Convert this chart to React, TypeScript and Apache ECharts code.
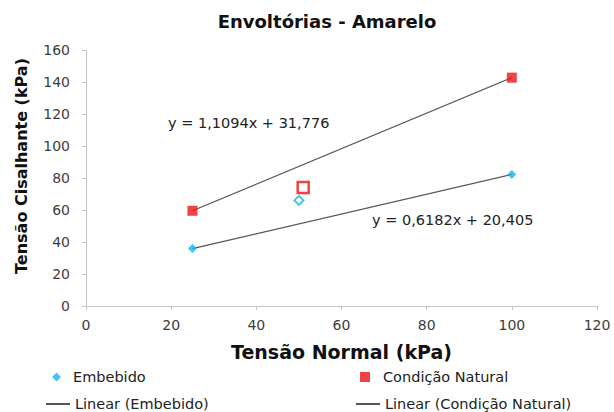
import React, { useEffect, useRef } from "react";
import * as echarts from "echarts";

const title = "Envoltórias - Amarelo";
const xName = "Tensão Normal (kPa)";
const yName = "Tensão Cisalhante (kPa)";

const embebidoPoints: [number, number][] = [[25, 35.86], [100, 82.23]];
const embebidoExcluded: [number, number][] = [[50, 66]];
const naturalPoints: [number, number][] = [[25, 59.51], [100, 142.72]];
const naturalExcluded: [number, number][] = [[51, 74]];

const embebidoFit = { slope: 0.6182, intercept: 20.405, label: "y = 0,6182x + 20,405" };
const naturalFit = { slope: 1.1094, intercept: 31.776, label: "y = 1,1094x + 31,776" };
const fitRange: [number, number] = [25, 100];

const CYAN = "#17b4ef";
const RED = "#ec1515";
const FONT = "DejaVu Sans, Verdana, sans-serif";

function line(fit: { slope: number; intercept: number }) {
  return fitRange.map((x) => [x, fit.slope * x + fit.intercept]);
}

export default function App() {
  const ref = useRef<HTMLDivElement>(null);
  useEffect(() => {
    const chart = echarts.init(ref.current!, null, { renderer: "svg" });
    const legendText = { color: "#222", fontSize: 14.5, fontFamily: FONT, lineHeight: 16 };
    chart.setOption({
      animation: false,
      backgroundColor: "#fff",
      textStyle: { fontFamily: FONT },
      title: {
        text: title,
        left: 322,
        textAlign: "center",
        top: 7,
        textStyle: { fontSize: 18, fontWeight: "bold", color: "#111", fontFamily: FONT },
      },
      grid: { left: 86, top: 50, width: 511, height: 256, containLabel: false },
      xAxis: {
        type: "value",
        min: 0,
        max: 120,
        interval: 20,
        name: xName,
        nameLocation: "middle",
        nameGap: 36,
        nameTextStyle: { fontSize: 19, fontWeight: "bold", color: "#111", fontFamily: FONT },
        axisLine: { lineStyle: { color: "#c4c4c4" } },
        axisTick: { show: true, length: 4, lineStyle: { color: "#c4c4c4" } },
        axisLabel: { fontSize: 14, color: "#3c3c3c", margin: 12, fontFamily: FONT },
        splitLine: { show: false },
      },
      yAxis: {
        type: "value",
        min: 0,
        max: 160,
        interval: 20,
        name: yName,
        nameLocation: "middle",
        nameGap: 57,
        nameTextStyle: {
          fontSize: 16,
          fontWeight: "bold",
          color: "#111",
          fontFamily: FONT,
          padding: [0, 0, 0, 24],
        },
        axisLine: { show: true, lineStyle: { color: "#c4c4c4" } },
        axisTick: { show: true, length: 4, lineStyle: { color: "#c4c4c4" } },
        axisLabel: { fontSize: 14, color: "#3c3c3c", margin: 16, fontFamily: FONT },
        splitLine: { show: false },
      },
      legend: [
        {
          data: [{ name: "Embebido", icon: "diamond" }],
          left: 52,
          top: 369,
          padding: 0,
          itemWidth: 9,
          itemHeight: 9,
          textStyle: { ...legendText, padding: [0, 0, 0, 7] },
        },
        {
          data: [{ name: "Condição Natural", icon: "rect" }],
          left: 360,
          top: 369,
          padding: 0,
          itemWidth: 10,
          itemHeight: 10,
          textStyle: { ...legendText, padding: [0, 0, 0, 8] },
        },
        {
          data: ["Linear (Embebido)"],
          left: 45,
          top: 396,
          padding: 0,
          itemWidth: 24,
          itemHeight: 2,
          textStyle: legendText,
        },
        {
          data: ["Linear (Condição Natural)"],
          left: 355,
          top: 396,
          padding: 0,
          itemWidth: 24,
          itemHeight: 2,
          textStyle: legendText,
        },
      ],
      series: [
        {
          name: "Linear (Embebido)",
          type: "line",
          data: line(embebidoFit),
          symbol: "none",
          lineStyle: { color: "#555", width: 1.2 },
          itemStyle: { color: "#555" },
          z: 1,
        },
        {
          name: "Linear (Condição Natural)",
          type: "line",
          data: line(naturalFit),
          symbol: "none",
          lineStyle: { color: "#555", width: 1.2 },
          itemStyle: { color: "#555" },
          z: 1,
        },
        {
          name: "Embebido",
          type: "scatter",
          symbol: "diamond",
          symbolSize: 9,
          itemStyle: { color: CYAN },
          data: [
            ...embebidoPoints,
            ...embebidoExcluded.map((p) => ({
              value: p,
              itemStyle: { color: "#fff", borderColor: CYAN, borderWidth: 2 },
            })),
          ],
          z: 3,
        },
        {
          name: "Condição Natural",
          type: "scatter",
          symbol: "rect",
          symbolSize: 10,
          itemStyle: { color: RED },
          data: [
            ...naturalPoints,
            ...naturalExcluded.map((p) => ({
              value: p,
              symbolSize: 11,
              itemStyle: { color: "#fff", borderColor: RED, borderWidth: 2.5 },
            })),
          ],
          z: 3,
        },
      ],
      graphic: [
        {
          type: "text",
          left: 168,
          top: 115,
          style: { text: naturalFit.label, fontSize: 14.5, fill: "#222", fontFamily: FONT },
        },
        {
          type: "text",
          left: 372,
          top: 212,
          style: { text: embebidoFit.label, fontSize: 14.5, fill: "#222", fontFamily: FONT },
        },
      ],
    });
    return () => chart.dispose();
  }, []);
  return (
    <div
      ref={ref}
      style={{ position: "fixed", left: 0, top: 0, width: 614, height: 412 }}
    />
  );
}
